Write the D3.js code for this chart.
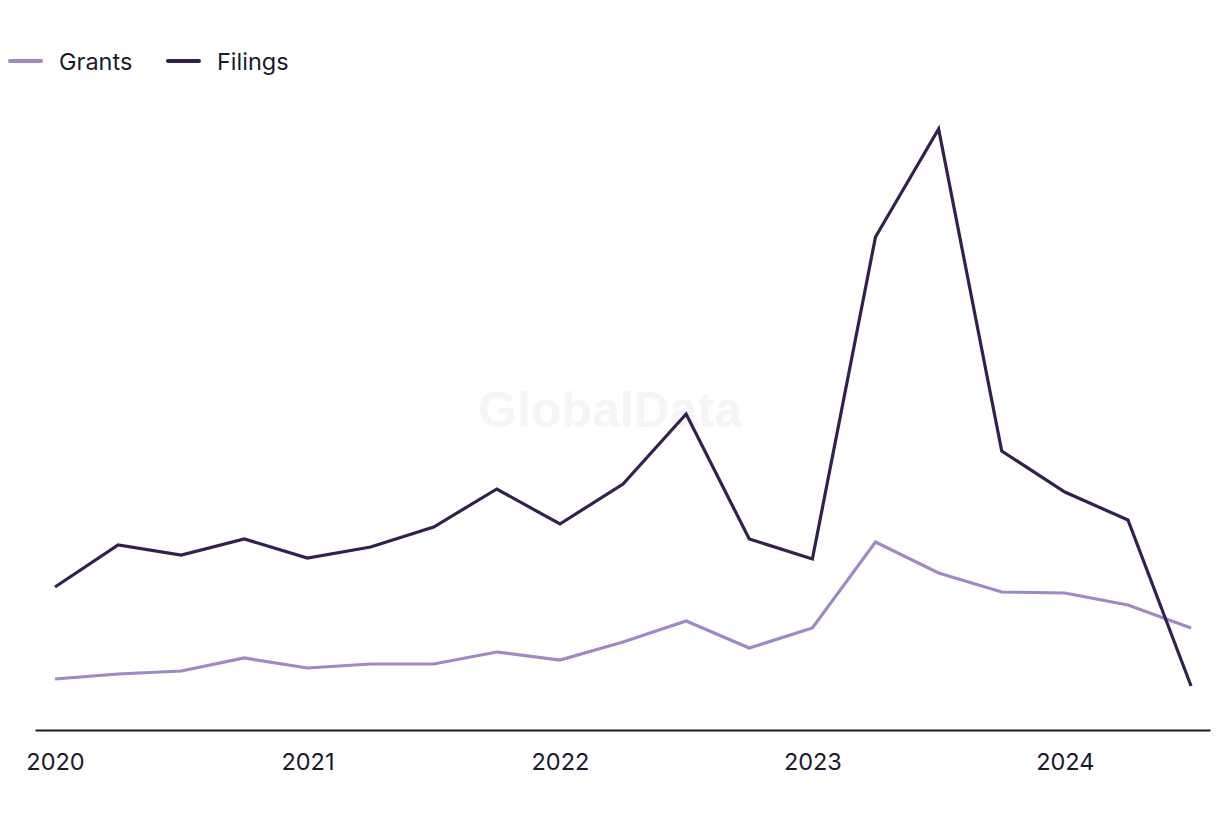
<!DOCTYPE html>
<html>
<head>
<meta charset="utf-8">
<script src="https://cdn.jsdelivr.net/npm/d3@7"></script>
<style>
  html, body { margin: 0; padding: 0; background: #fff; }
  svg { display: block; font-family: Inter, "Liberation Sans", sans-serif; }
</style>
</head>
<body>
<svg id="chart" width="1220" height="820"></svg>
<script>
const quarters = ["2020Q1","2020Q2","2020Q3","2020Q4","2021Q1","2021Q2","2021Q3","2021Q4","2022Q1","2022Q2","2022Q3","2022Q4","2023Q1","2023Q2","2023Q3","2023Q4","2024Q1","2024Q2","2024Q3"];
const filings = [28.6, 37, 35, 38.2, 34.4, 36.6, 40.6, 48.2, 41.2, 49.2, 63.2, 38.2, 34.2, 98.6, 120.2, 55.8, 47.6, 42, 8.8];
const grants  = [10.2, 11.2, 11.8, 14.4, 12.4, 13.2, 13.2, 15.6, 14, 17.6, 21.8, 16.4, 20.4, 37.6, 31.4, 27.6, 27.4, 25, 20.4];
const tickIndex = [0, 4, 8, 12, 16];
const tickLabels = ["2020", "2021", "2022", "2023", "2024"];
const seriesNames = ["Grants", "Filings"];
const seriesColors = ["#9f88c5", "#33204f"];

const svg = d3.select("#chart");

const x = d3.scaleLinear().domain([-0.317, 18.3]).range([35, 1210]);
const y = d3.scaleLinear().domain([0, 120]).range([730, 130]);

// watermark
svg.append("text")
  .attr("x", 610).attr("y", 427)
  .attr("text-anchor", "middle")
  .attr("font-size", 50).attr("font-weight", 700)
  .attr("fill", "#f5f5f5")
  .attr("font-family", "'Liberation Sans', Arial, sans-serif")
  .text("GlobalData");

// axis
const axis = d3.axisBottom(x)
  .tickValues(tickIndex)
  .tickFormat((d, i) => tickLabels[i])
  .tickSize(0)
  .tickPadding(23)
  .tickSizeOuter(0);

const gx = svg.append("g").attr("transform", "translate(0,730)").call(axis);
gx.select(".domain").attr("stroke", "#1a1a2e").attr("stroke-width", 2);
gx.selectAll(".tick text")
  .attr("font-size", 23.5)
  .attr("fill", "#1a1a2e")
  .attr("font-family", "Inter, 'Liberation Sans', sans-serif");

const line = d3.line().x((d, i) => x(i)).y(d => y(d));

[grants, filings].forEach((s, k) => {
  svg.append("path")
    .datum(s)
    .attr("d", line)
    .attr("fill", "none")
    .attr("stroke", seriesColors[k])
    .attr("stroke-width", 3.2)
    .attr("stroke-linejoin", "miter");
});

// legend
const legendX = [10, 168];
seriesNames.forEach((name, k) => {
  const g = svg.append("g").attr("transform", `translate(${legendX[k]},61)`);
  g.append("line").attr("x1", 0).attr("x2", 31).attr("y1", 0).attr("y2", 0)
    .attr("stroke", seriesColors[k]).attr("stroke-width", 4).attr("stroke-linecap", "round");
  g.append("text").attr("x", 49).attr("y", 8.5)
    .attr("font-size", 23.5).attr("fill", "#1a1a2e")
    .text(name);
});
</script>
</body>
</html>
